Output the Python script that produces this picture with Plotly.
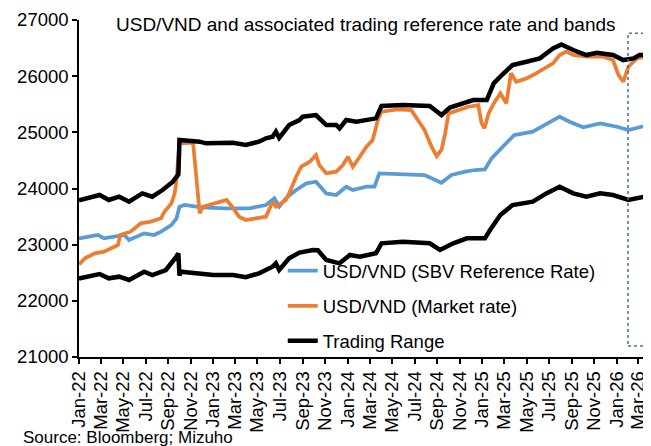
import plotly.graph_objects as go

# ---- SBV reference rate ----
ref_dates = ["2022-01-01","2022-01-04","2022-02-22","2022-03-10","2022-04-07","2022-05-04","2022-05-17","2022-06-27",
             "2022-07-24","2022-08-12","2022-09-09","2022-09-23","2022-10-01","2022-10-15","2022-11-29","2023-02-02",
             "2023-04-09","2023-05-24","2023-06-16","2023-06-29","2023-07-17","2023-08-14","2023-09-11","2023-10-07",
             "2023-11-04","2023-12-01","2023-12-28","2024-01-15","2024-02-21","2024-03-14","2024-03-27","2024-05-15",
             "2024-07-28","2024-09-12","2024-10-09","2024-11-15","2024-12-12","2025-01-08","2025-01-26","2025-03-02",
             "2025-03-29","2025-05-18","2025-07-03","2025-07-30","2025-08-26","2025-10-02","2025-11-17","2026-01-02",
             "2026-02-02","2026-03-17"]
ref_values = [23110,23113,23172,23113,23142,23172,23083,23202,
              23172,23231,23350,23469,23676,23706,23665,23647,
              23647,23706,23825,23676,23825,23973,24092,24121,
              23913,23884,24032,23973,24032,24032,24270,24260,
              24240,24103,24240,24299,24329,24340,24537,24774,
              24952,25011,25189,25278,25189,25089,25160,25100,
              25041,25112]

# ---- Market rate ----
mkt_dates = ["2022-01-01","2022-01-04","2022-01-17","2022-02-13","2022-03-10","2022-04-07","2022-04-17","2022-04-23",
             "2022-05-21","2022-06-18","2022-07-15","2022-08-12","2022-08-21","2022-09-09","2022-09-18","2022-09-22",
             "2022-10-01","2022-11-07","2022-11-25","2022-12-03","2023-02-06","2023-02-24","2023-03-12","2023-03-30",
             "2023-05-05","2023-05-24","2023-06-11","2023-06-20","2023-07-17","2023-07-26","2023-08-14","2023-08-28",
             "2023-09-20","2023-10-07","2023-10-16","2023-11-04","2023-12-01","2023-12-19","2024-01-02","2024-01-15",
             "2024-02-03","2024-02-21","2024-03-09","2024-03-23","2024-04-02","2024-05-16","2024-06-22","2024-07-10",
             "2024-07-28","2024-08-16","2024-08-30","2024-09-12","2024-09-22","2024-10-01","2024-10-28","2024-11-24",
             "2024-12-21","2024-12-30","2025-01-07","2025-01-18","2025-02-01","2025-02-19","2025-03-07","2025-03-20",
             "2025-04-03","2025-05-01","2025-05-27","2025-06-24","2025-07-12","2025-07-30","2025-08-17","2025-09-05",
             "2025-10-11","2025-11-26","2025-12-22","2026-01-06","2026-01-19","2026-02-02","2026-02-25","2026-03-17"]
mkt_values = [22650,22668,22757,22846,22876,22964,22994,23172,
              23231,23380,23410,23469,23587,23735,23913,24092,
              24804,24815,23558,23676,23795,23650,23498,23439,
              23469,23498,23765,23676,23795,23913,24210,24388,
              24477,24596,24418,24270,24299,24418,24566,24388,
              24566,24744,24863,25219,25367,25410,25396,25219,
              25041,24744,24578,24685,24982,25338,25396,25456,
              25485,25160,25071,25338,25516,25694,25516,26050,
              25902,25960,26050,26168,26227,26376,26436,26376,
              26346,26346,26287,26020,25902,26168,26317,26346]

# ---- Trading range: upper band ----
up_dates = ["2022-01-01","2022-01-04","2022-02-26","2022-03-23","2022-04-20","2022-05-17","2022-06-22","2022-07-19",
            "2022-08-16","2022-09-13","2022-09-22","2022-09-28","2022-10-01","2022-11-25","2022-12-12","2023-02-24",
            "2023-03-30","2023-05-05","2023-05-24","2023-06-11","2023-06-20","2023-06-29","2023-07-26","2023-08-23",
            "2023-09-01","2023-10-07","2023-11-04","2023-12-01","2023-12-10","2023-12-28","2024-01-25","2024-03-01",
            "2024-03-18","2024-04-02","2024-05-30","2024-08-11","2024-09-12","2024-10-05","2024-11-10","2024-12-07",
            "2025-01-13","2025-02-01","2025-02-23","2025-03-24","2025-05-01","2025-06-06","2025-07-12","2025-08-04",
            "2025-09-05","2025-10-11","2025-11-08","2025-12-22","2026-01-19","2026-02-16","2026-03-04","2026-03-17"]
up_values = [23790,23795,23884,23795,23854,23765,23913,23854,
             23973,24121,24210,24250,24863,24834,24804,24815,
             24774,24834,24893,24923,25011,24900,25130,25219,
             25278,25308,25130,25130,25071,25219,25189,25219,
             25249,25469,25486,25469,25308,25440,25516,25575,
             25575,25872,26020,26198,26257,26317,26495,26566,
             26465,26376,26418,26376,26287,26317,26376,26376]

# ---- Trading range: lower band ----
lo_dates = ["2022-01-01","2022-01-04","2022-02-26","2022-03-23","2022-04-20","2022-05-17","2022-06-27","2022-07-19",
            "2022-08-25","2022-09-13","2022-09-22","2022-09-28","2022-10-01","2022-10-05","2022-11-25","2023-01-01",
            "2023-02-24","2023-03-30","2023-05-05","2023-05-24","2023-06-11","2023-06-20","2023-06-29","2023-07-26",
            "2023-08-23","2023-09-29","2023-10-12","2023-11-04","2023-12-10","2024-01-07","2024-02-03","2024-03-18",
            "2024-04-02","2024-05-30","2024-08-11","2024-09-08","2024-10-14","2024-11-20","2025-01-08","2025-01-22",
            "2025-02-10","2025-02-19","2025-03-24","2025-05-18","2025-06-24","2025-07-30","2025-09-05","2025-10-11",
            "2025-11-17","2025-12-22","2026-02-02","2026-03-17"]
lo_values = [22400,22401,22478,22401,22430,22371,22519,22460,
             22549,22697,22780,22846,22450,22519,22490,22460,
             22460,22420,22490,22549,22608,22667,22549,22757,
             22860,22905,22900,22727,22668,22816,22786,22846,
             23024,23053,23024,22905,23024,23113,23113,23261,
             23439,23528,23706,23765,23913,24032,23913,23854,
             23913,23884,23795,23854]

x_range = ["2022-01-01", "2026-03-19"]
y_range = [21000, 27000]

FONT = "Liberation Sans, Arial, sans-serif"

fig = go.Figure()
fig.add_trace(go.Scatter(x=ref_dates, y=ref_values, mode="lines", name="USD/VND (SBV Reference Rate)",
                         line=dict(color="#5B9BD5", width=3.75), legendgroup="a"))
fig.add_trace(go.Scatter(x=mkt_dates, y=mkt_values, mode="lines", name="USD/VND (Market rate)",
                         line=dict(color="#ED7D31", width=3.75), legendgroup="b"))
fig.add_trace(go.Scatter(x=up_dates, y=up_values, mode="lines", name="Trading Range",
                         line=dict(color="#000000", width=4.5), legendgroup="c"))
fig.add_trace(go.Scatter(x=lo_dates, y=lo_values, mode="lines", name="Trading Range", showlegend=False,
                         line=dict(color="#000000", width=4.5), legendgroup="c"))

# the page body adds an 8px offset, so the figure is sized to fit the window after it
fig.update_layout(
    width=643, height=438,
    margin=dict(l=71, r=6, t=12, b=89, autoexpand=False),
    paper_bgcolor="white", plot_bgcolor="white",
    font=dict(family=FONT, size=18.5, color="#000000"),
    hovermode=False,
    legend=dict(x=0.36, y=0.311, xanchor="left", yanchor="top", bgcolor="rgba(0,0,0,0)",
                traceorder="grouped", tracegroupgap=8, font=dict(size=18.5),
                itemwidth=30),
    xaxis=dict(range=x_range, type="date", dtick="M2", tick0="2022-01-01", tickformat="%b-%y",
               tickangle=-90, showgrid=False, zeroline=False, showline=True, linecolor="#000000",
               linewidth=1.5, ticks="outside", ticklen=5, tickwidth=1.5, tickcolor="#000000",
               tickfont=dict(size=18.5), automargin=False),
    yaxis=dict(range=y_range, dtick=1000, showgrid=False, zeroline=False, showline=True,
               linecolor="#000000", linewidth=1.5, ticks="outside", ticklen=5, tickwidth=1.5,
               tickcolor="#000000", tickfont=dict(size=18.5), tickformat="d", automargin=False),
    shapes=[dict(type="rect", xref="paper", yref="paper", x0=0.970, x1=1.1, y0=0.0326, y1=0.961,
                 line=dict(color="#41719C", width=1.5, dash="dot"), fillcolor="rgba(0,0,0,0)")],
    annotations=[
        dict(text="USD/VND and associated trading reference rate and bands", xref="paper", yref="paper",
             x=0.507, y=0.988, xanchor="center", yanchor="middle", showarrow=False, font=dict(size=19)),
        dict(text="Source: Bloomberg; Mizuho", xref="paper", yref="paper", x=-0.1025, y=-0.24,
             xanchor="left", yanchor="middle", showarrow=False, font=dict(size=17)),
    ],
)

fig.write_html("out.html")
